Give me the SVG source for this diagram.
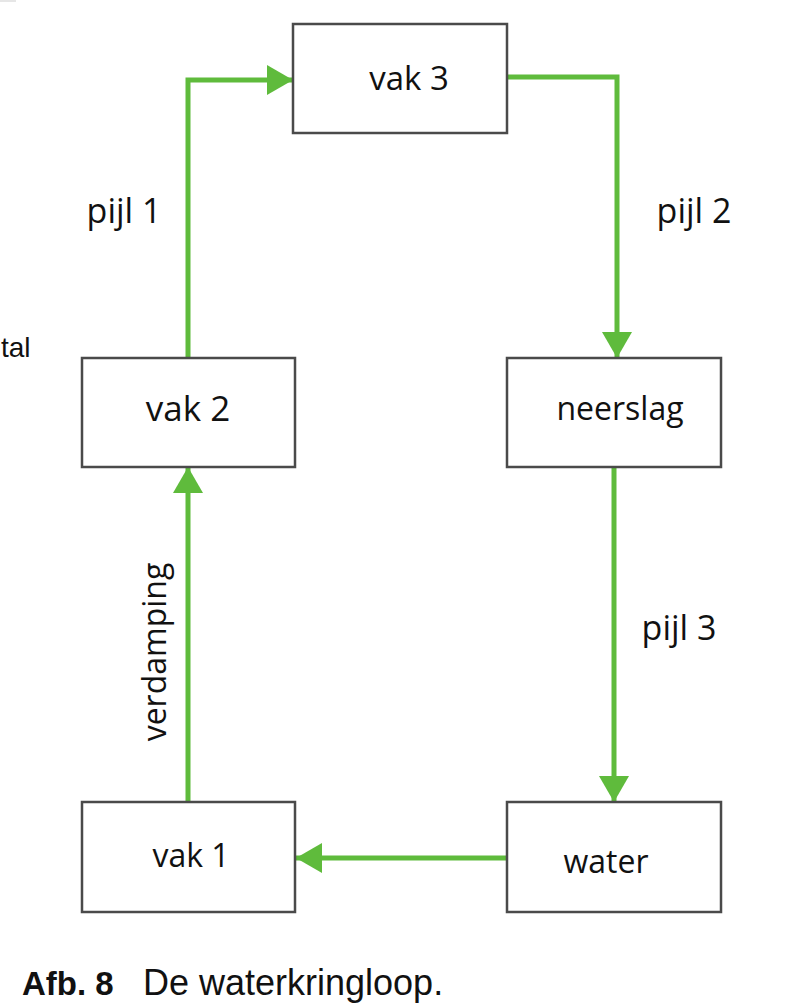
<svg xmlns="http://www.w3.org/2000/svg" width="795" height="1003" viewBox="0 0 795 1003">
<defs>
<style>
.box{fill:#fff;stroke:#4a4a4a;stroke-width:2.5}
.lbl{font-family:"Open Sans","Liberation Sans",sans-serif;font-size:32px;fill:#111;text-anchor:middle}
.pl{font-size:34px}
.conn{fill:none;stroke:#5fbb3c;stroke-width:5}
.cap{font-family:"Liberation Sans",Arial,sans-serif;font-size:35px;fill:#111}
</style>
<marker id="ah" viewBox="0 0 26 30" refX="26" refY="15" markerWidth="26" markerHeight="30" markerUnits="userSpaceOnUse" orient="auto">
<path d="M0,0 L26,15 L0,30 Z" fill="#5fbb3c"/>
</marker>
</defs>
<rect x="0" y="0" width="16" height="2" fill="#e6e6e6"/>
<g id="connectors">
<path class="conn" d="M188,358 V80 H293" marker-end="url(#ah)"/>
<path class="conn" d="M507,77 H617 V358" marker-end="url(#ah)"/>
<path class="conn" d="M614,467 V802" marker-end="url(#ah)"/>
<path class="conn" d="M507,858 H296" marker-end="url(#ah)"/>
<path class="conn" d="M188,802 V467" marker-end="url(#ah)"/>
</g>
<g id="vak3"><rect class="box" x="293" y="24" width="214" height="109"/><text class="lbl" x="409" y="90" style="font-size:33px">vak 3</text></g>
<g id="vak2"><rect class="box" x="82" y="358" width="213" height="109"/><text class="lbl" x="188" y="421" style="font-size:35px">vak 2</text></g>
<g id="neerslag"><rect class="box" x="507" y="358" width="214" height="109"/><text class="lbl" x="620" y="420">neerslag</text></g>
<g id="vak1"><rect class="box" x="82" y="802" width="213" height="110"/><text class="lbl" x="191" y="867">vak 1</text></g>
<g id="water"><rect class="box" x="507" y="802" width="214" height="110"/><text class="lbl" x="606" y="873">water</text></g>
<g id="labels">
<text class="lbl pl" x="124" y="223">pijl 1</text>
<text class="lbl pl" x="694" y="223">pijl 2</text>
<text class="lbl pl" x="679" y="640">pijl 3</text>
<text class="lbl" transform="translate(166,652) rotate(-90)">verdamping</text>
<text x="1" y="357" style="font-family:'Liberation Sans',Arial,sans-serif;font-size:28px;fill:#111">tal</text>
</g>
<g id="caption">
<text class="cap" x="22" y="995" font-weight="bold" style="font-size:33px">Afb. 8</text>
<text class="cap" x="143" y="995" style="font-size:36px">De waterkringloop.</text>
</g>
</svg>
